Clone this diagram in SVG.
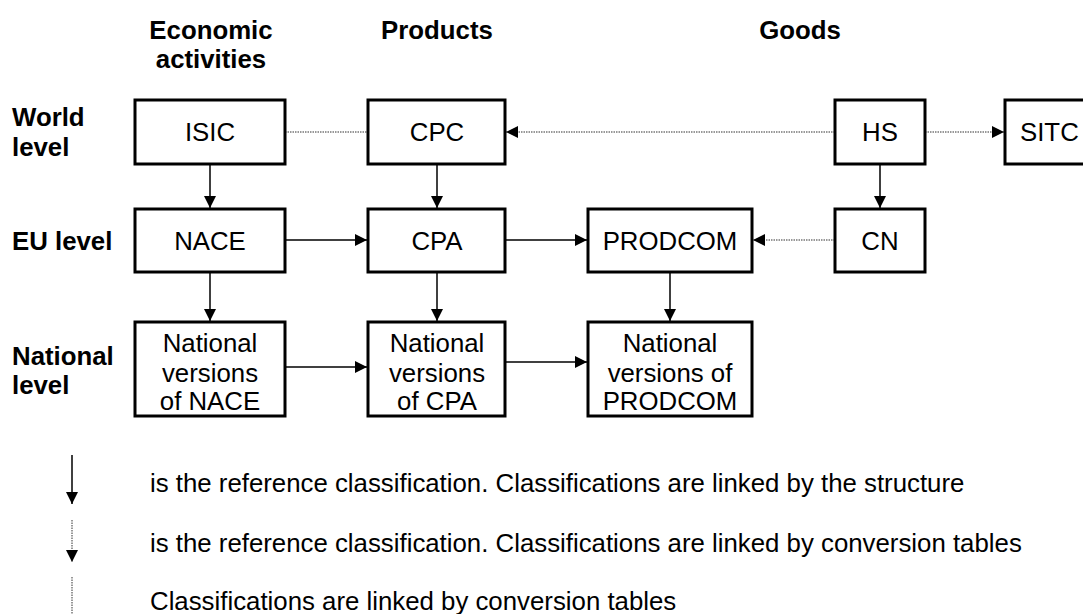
<svg xmlns="http://www.w3.org/2000/svg" width="1083" height="614" viewBox="0 0 1083 614">
<style>
text{font-family:"Liberation Sans",Arial,sans-serif;fill:#000}
.h{font-size:25.8px;font-weight:bold}
.t{font-size:25.8px;text-anchor:middle}
.l{font-size:25.8px}
.box{fill:#fff;stroke:#000;stroke-width:3}
.s{stroke:#000;stroke-width:1.5;fill:none}
.d{stroke:#777;stroke-width:1.5;stroke-dasharray:1.5 1;fill:none}
</style>
<defs>
<marker id="a" viewBox="0 0 10 10" refX="10" refY="5" markerWidth="12" markerHeight="12" markerUnits="userSpaceOnUse" orient="auto">
<path d="M0,0 L10,5 L0,10 z" fill="#000"/>
</marker>
</defs>
<g id="headers">
<text class="h" x="211" y="39" text-anchor="middle">Economic</text>
<text class="h" x="211" y="68" text-anchor="middle">activities</text>
<text class="h" x="437" y="39" text-anchor="middle">Products</text>
<text class="h" x="800" y="39" text-anchor="middle">Goods</text>
<text class="h" x="12" y="126">World</text>
<text class="h" x="12" y="156">level</text>
<text class="h" x="12" y="250">EU level</text>
<text class="h" x="12" y="365">National</text>
<text class="h" x="12" y="394">level</text>
</g>
<g id="connectors">
<line class="d" x1="285" y1="132" x2="368" y2="132"/>
<line class="d" x1="835" y1="132" x2="506" y2="132" marker-end="url(#a)"/>
<line class="d" x1="925" y1="132" x2="1004" y2="132" marker-end="url(#a)"/>
<line class="s" x1="880" y1="164" x2="880" y2="208" marker-end="url(#a)"/>
<line class="s" x1="210" y1="164" x2="210" y2="208" marker-end="url(#a)"/>
<line class="s" x1="437" y1="164" x2="437" y2="208" marker-end="url(#a)"/>
<line class="s" x1="285" y1="240" x2="367" y2="240" marker-end="url(#a)"/>
<line class="s" x1="505" y1="240" x2="587" y2="240" marker-end="url(#a)"/>
<line class="d" x1="835" y1="240" x2="753" y2="240" marker-end="url(#a)"/>
<line class="s" x1="210" y1="272" x2="210" y2="321" marker-end="url(#a)"/>
<line class="s" x1="437" y1="272" x2="437" y2="321" marker-end="url(#a)"/>
<line class="s" x1="670" y1="272" x2="670" y2="321" marker-end="url(#a)"/>
<line class="s" x1="285" y1="367" x2="367" y2="367" marker-end="url(#a)"/>
<line class="s" x1="505" y1="362" x2="587" y2="362" marker-end="url(#a)"/>
</g>
<g id="isic"><rect class="box" x="135" y="100" width="150" height="64"/><text class="t" x="210" y="141">ISIC</text></g>
<g id="cpc"><rect class="box" x="368" y="100" width="137" height="64"/><text class="t" x="437" y="141">CPC</text></g>
<g id="hs"><rect class="box" x="835" y="100" width="90" height="64"/><text class="t" x="880" y="141">HS</text></g>
<g id="sitc"><rect class="box" x="1005" y="100" width="100" height="64"/><text class="l" x="1020" y="141">SITC</text></g>
<g id="nace"><rect class="box" x="135" y="209" width="150" height="63"/><text class="t" x="210" y="250">NACE</text></g>
<g id="cpa"><rect class="box" x="368" y="209" width="137" height="63"/><text class="t" x="437" y="250">CPA</text></g>
<g id="prodcom"><rect class="box" x="588" y="209" width="164" height="63"/><text class="t" x="670" y="250">PRODCOM</text></g>
<g id="cn"><rect class="box" x="835" y="209" width="90" height="63"/><text class="t" x="880" y="250">CN</text></g>
<g id="nat-nace"><rect class="box" x="135" y="322" width="150" height="94"/><text class="t" x="210" y="352">National</text><text class="t" x="210" y="382">versions</text><text class="t" x="210" y="410">of NACE</text></g>
<g id="nat-cpa"><rect class="box" x="368" y="322" width="137" height="94"/><text class="t" x="437" y="352">National</text><text class="t" x="437" y="382">versions</text><text class="t" x="437" y="410">of CPA</text></g>
<g id="nat-prodcom"><rect class="box" x="588" y="322" width="164" height="94"/><text class="t" x="670" y="352">National</text><text class="t" x="670" y="382">versions of</text><text class="t" x="670" y="410">PRODCOM</text></g>
<g id="legend">
<line class="s" x1="72" y1="455" x2="72" y2="504" marker-end="url(#a)"/>
<line class="d" x1="72" y1="520" x2="72" y2="562" marker-end="url(#a)"/>
<line class="d" x1="72" y1="577" x2="72" y2="614"/>
<text class="l" x="150" y="492">is the reference classification. Classifications are linked by the structure</text>
<text class="l" x="150" y="552">is the reference classification. Classifications are linked by conversion tables</text>
<text class="l" x="150" y="610">Classifications are linked by conversion tables</text>
</g>
</svg>
